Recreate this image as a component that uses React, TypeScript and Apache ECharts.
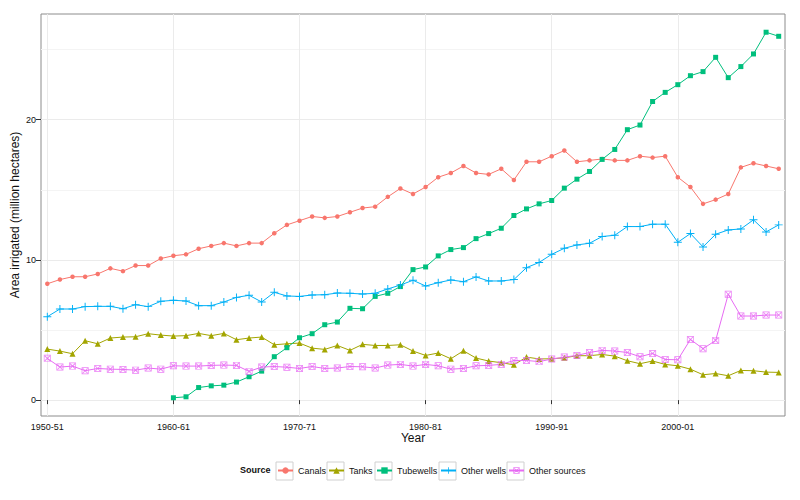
import React, { useEffect, useRef } from "react";
import * as echarts from "echarts";

const years: string[] = Array.from({ length: 59 }, (_, i) => {
  const y = 1950 + i;
  return `${y}-${String((y + 1) % 100).padStart(2, "0")}`;
});

const canals = [8.3, 8.6, 8.8, 8.8, 9.0, 9.4, 9.2, 9.6, 9.6, 10.1, 10.3, 10.4, 10.8, 11.0, 11.2, 11.0, 11.2, 11.2, 11.9, 12.5, 12.8, 13.1, 13.0, 13.1, 13.4, 13.7, 13.8, 14.5, 15.1, 14.7, 15.2, 15.9, 16.2, 16.7, 16.2, 16.1, 16.5, 15.7, 17.0, 17.0, 17.4, 17.8, 17.0, 17.1, 17.2, 17.1, 17.1, 17.4, 17.3, 17.4, 15.9, 15.2, 14.0, 14.3, 14.7, 16.6, 16.9, 16.7, 16.5];
const tanks = [3.64, 3.5, 3.31, 4.24, 4.02, 4.43, 4.5, 4.52, 4.74, 4.64, 4.57, 4.6, 4.76, 4.6, 4.76, 4.31, 4.43, 4.5, 3.95, 4.02, 4.07, 3.71, 3.62, 3.9, 3.55, 3.98, 3.9, 3.9, 3.95, 3.5, 3.19, 3.36, 2.95, 3.52, 3.0, 2.79, 2.67, 2.52, 3.07, 2.94, 2.95, 3.02, 3.17, 3.17, 3.26, 3.14, 2.81, 2.6, 2.79, 2.55, 2.45, 2.21, 1.81, 1.9, 1.74, 2.12, 2.1, 2.0, 1.98];
const tubewells = [null, null, null, null, null, null, null, null, null, null, 0.17, 0.24, 0.9, 1.02, 1.07, 1.29, 1.67, 2.07, 3.1, 3.74, 4.45, 4.74, 5.38, 5.57, 6.55, 6.52, 7.4, 7.62, 8.1, 9.31, 9.5, 10.29, 10.74, 10.88, 11.52, 11.88, 12.26, 13.17, 13.64, 14.0, 14.24, 15.12, 15.76, 16.31, 17.17, 17.88, 19.29, 19.62, 21.3, 21.95, 22.5, 23.14, 23.43, 24.45, 23.0, 23.79, 24.69, 26.24, 25.95];
const otherWells = [5.95, 6.5, 6.5, 6.67, 6.69, 6.69, 6.52, 6.81, 6.67, 7.05, 7.12, 7.07, 6.74, 6.74, 7.0, 7.33, 7.48, 7.0, 7.69, 7.43, 7.4, 7.5, 7.52, 7.64, 7.62, 7.57, 7.62, 7.93, 8.21, 8.55, 8.14, 8.38, 8.57, 8.45, 8.79, 8.5, 8.5, 8.6, 9.45, 9.82, 10.4, 10.83, 11.07, 11.19, 11.67, 11.76, 12.38, 12.38, 12.55, 12.55, 11.26, 11.88, 10.93, 11.83, 12.14, 12.21, 12.86, 12.0, 12.5];
const otherSources = [2.98, 2.36, 2.43, 2.1, 2.26, 2.21, 2.19, 2.14, 2.29, 2.21, 2.45, 2.43, 2.43, 2.48, 2.5, 2.48, 2.05, 2.36, 2.4, 2.35, 2.26, 2.4, 2.26, 2.29, 2.4, 2.38, 2.29, 2.5, 2.55, 2.43, 2.55, 2.45, 2.21, 2.26, 2.45, 2.48, 2.55, 2.83, 2.83, 2.75, 2.93, 3.07, 3.19, 3.4, 3.55, 3.5, 3.4, 3.1, 3.33, 2.9, 2.88, 4.33, 3.67, 4.26, 7.55, 6.0, 6.0, 6.07, 6.07];

const seriesNames = ["Canals", "Tanks", "Tubewells", "Other wells", "Other sources"];
const seriesColors = ["#F8766D", "#A3A500", "#00BF7D", "#00B0F6", "#E76BF3"];
const yMajor = [0, 10, 20];
const yMinor = [5, 15, 25];
const xMajor = ["1950-51", "1960-61", "1970-71", "1980-81", "1990-91", "2000-01"];

const plusPath = "path://M-0.12,-1H0.12V-0.12H1V0.12H0.12V1H-0.12V0.12H-1V-0.12H-0.12Z";
const boxXPath =
  "path://M-1,-1H1V1H-1Z M-0.8,-0.8V0.8H0.8V-0.8Z M-0.8,-0.62L-0.62,-0.8L0.8,0.62L0.62,0.8Z M0.62,-0.8L0.8,-0.62L-0.62,0.8L-0.8,0.62Z";

const symbols = ["circle", "triangle", "rect", plusPath, boxXPath];
const symbolSizes = [4.5, 6, 5, 8, 7];
const dataArr = [canals, tanks, tubewells, otherWells, otherSources];

const legendBoxX = [276, 327, 375, 439, 507];
const FONT = "Liberation Sans, Arial, sans-serif";

export default function App() {
  const ref = useRef<HTMLDivElement>(null);
  useEffect(() => {
    if (!ref.current) return;
    document.body.style.margin = "0";
    const chart = echarts.init(ref.current, undefined, { renderer: "svg" });
    const series: any[] = seriesNames.map((name, k) => ({
      name,
      type: "line",
      data: dataArr[k],
      symbol: symbols[k],
      symbolSize: symbolSizes[k],
      showSymbol: true,
      connectNulls: false,
      z: 3,
      lineStyle: { color: seriesColors[k], width: 1 },
      itemStyle: { color: seriesColors[k], borderWidth: 0, opacity: k === 4 ? 0.85 : 1 },
    }));
    series.push({
      name: "grid",
      type: "line",
      data: [],
      z: 0,
      silent: true,
      markLine: {
        silent: true,
        z: 0,
        symbol: ["none", "none"],
        label: { show: false },
        animation: false,
        data: [
          ...yMinor.map((v) => ({ yAxis: v, lineStyle: { color: "#f4f4f4", width: 1, type: "solid" } })),
          ...yMajor.map((v) => ({ yAxis: v, lineStyle: { color: "#ebebeb", width: 1, type: "solid" } })),
          ...xMajor.map((v) => ({ xAxis: v, lineStyle: { color: "#ebebeb", width: 1, type: "solid" } })),
        ],
      },
    });

    const legends = seriesNames.map((name, k) => ({
      data: [name],
      left: legendBoxX[k] + 1,
      top: 466,
      itemWidth: 15,
      itemHeight: 8,
      padding: 0,
      textStyle: { fontSize: 9, fontFamily: FONT, color: "#111" },
      selectedMode: false,
    }));

    chart.setOption({
      animation: false,
      backgroundColor: "#ffffff",
      textStyle: { fontFamily: FONT },
      grid: {
        left: 41,
        right: 15,
        top: 14,
        bottom: 84,
        show: true,
        borderColor: "#8c8c8c",
        borderWidth: 1,
        backgroundColor: "transparent",
        outerBoundsMode: "none",
        containLabel: false,
      },
      legend: legends,
      xAxis: {
        type: "category",
        data: years,
        boundaryGap: true,
        name: "Year",
        nameLocation: "middle",
        nameGap: 16,
        nameMoveOverlap: false,
        nameTextStyle: { fontSize: 12, fontFamily: FONT, color: "#111" },
        axisLine: { show: false },
        axisTick: { show: true, alignWithLabel: true, interval: 9, length: 4, lineStyle: { color: "#333" } },
        axisLabel: { interval: 9, fontSize: 9, fontFamily: FONT, color: "#111", margin: 6 },
        splitLine: { show: false },
      },
      yAxis: {
        type: "value",
        min: -1.13,
        max: 27.54,
        name: "Area irrigated (million hectares)",
        nameLocation: "middle",
        nameGap: 20,
        nameMoveOverlap: false,
        nameTextStyle: { fontSize: 12, fontFamily: FONT, color: "#111" },
        axisLine: { show: false },
        axisTick: { show: true, length: 5, customValues: yMajor, lineStyle: { color: "#333" } },
        axisLabel: { fontSize: 9, fontFamily: FONT, color: "#111", margin: 5, customValues: yMajor },
        splitLine: { show: false },
      },
      graphic: [
        {
          type: "text",
          left: 240,
          top: 465,
          style: { text: "Source", fontSize: 9, fontWeight: "bold", fontFamily: FONT, fill: "#111" },
        },
        ...legendBoxX.map((x) => ({
          type: "rect",
          shape: { x: x, y: 462, width: 17, height: 18 },
          style: { fill: "none", stroke: "#d0d0d0", lineWidth: 1 },
        })),
      ],
      series,
    });
    return () => chart.dispose();
  }, []);
  return <div ref={ref} style={{ width: 800, height: 500 }} />;
}
